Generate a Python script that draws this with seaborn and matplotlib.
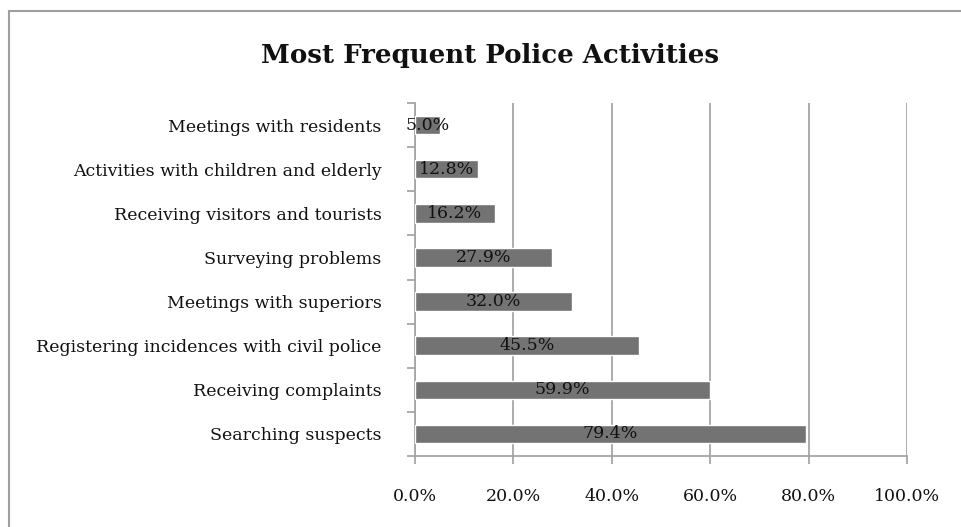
import matplotlib
matplotlib.use("Agg")
import matplotlib.pyplot as plt
import seaborn as sns
import pandas as pd
from matplotlib.patches import Rectangle
from matplotlib.ticker import FixedLocator, FuncFormatter

categories = [
    "Meetings with residents",
    "Activities with children and elderly",
    "Receiving visitors and tourists",
    "Surveying problems",
    "Meetings with superiors",
    "Registering incidences with civil police",
    "Receiving complaints",
    "Searching suspects",
]
values = [5.0, 12.8, 16.2, 27.9, 32.0, 45.5, 59.9, 79.4]
x_ticks = [0, 20, 40, 60, 80, 100]
title = "Most Frequent Police Activities"

sns.set_style("white")
plt.rcParams["font.family"] = ["DejaVu Serif"]

df = pd.DataFrame({"activity": categories, "pct": values})

fig = plt.figure(figsize=(9.61, 5.27), dpi=100)
ax = fig.add_axes([415 / 961, 1 - 456 / 527, 492 / 961, 353 / 527])

grid_c = "#a6a6a6"
sns.barplot(data=df, x="pct", y="activity", order=categories, color="#737373",
            width=0.42, saturation=1, ax=ax, zorder=3)

ax.set_xlim(0, 100)
ax.set_ylim(len(categories) - 0.5, -0.5)
ax.xaxis.set_major_locator(FixedLocator(x_ticks))
ax.xaxis.set_major_formatter(FuncFormatter(lambda v, p: f"{v:.1f}%"))
ax.grid(axis="x", color=grid_c, linewidth=1.3, zorder=0)
ax.set_axisbelow(True)
ax.set_xlabel("")
ax.set_ylabel("")

for s in ["top", "right"]:
    ax.spines[s].set_visible(False)
for s in ["left", "bottom"]:
    ax.spines[s].set_color(grid_c)
    ax.spines[s].set_linewidth(1.3)

ax.tick_params(axis="x", which="major", direction="out", length=6, width=1.3,
               color=grid_c, pad=17, labelsize=12.5, labelcolor="#111111", bottom=True)
ax.tick_params(axis="y", which="major", length=0, pad=24, labelsize=12.5,
               labelcolor="#111111")
ax.yaxis.set_minor_locator(FixedLocator([i - 0.5 for i in range(len(categories) + 1)]))
ax.tick_params(axis="y", which="minor", direction="out", length=6, width=1.3,
               color=grid_c, left=True)

for c in ax.containers:
    ax.bar_label(c, labels=[f"{v:.1f}%" for v in values], label_type="center",
                 fontsize=12.5, color="#111111", padding=0)

fig.text(490 / 961, 1 - 56 / 527, title, ha="center", va="center",
         fontsize=18.7, fontweight="bold", color="#111111")

fig.patches.append(Rectangle((9 / 961, -0.1), 1.2, 1 - 11 / 527 + 0.1,
                             transform=fig.transFigure, fill=False,
                             edgecolor="#a0a0a0", linewidth=1.5, zorder=10))

fig.savefig("out.png", dpi=100)
